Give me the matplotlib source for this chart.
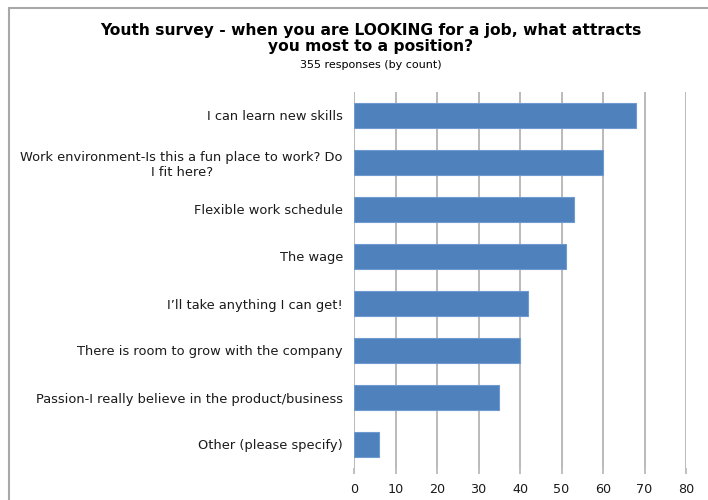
import matplotlib.pyplot as plt
from matplotlib.patches import Rectangle

# survey answers, top to bottom
answers = [
    "I can learn new skills",
    "Work environment-Is this a fun place to work? Do\nI fit here?",
    "Flexible work schedule",
    "The wage",
    "I\u2019ll take anything I can get!",
    "There is room to grow with the company",
    "Passion-I really believe in the product/business",
    "Other (please specify)",
]
counts = [68, 60, 53, 51, 42, 40, 35, 6]
xticks = [0, 10, 20, 30, 40, 50, 60, 70, 80]

plt.rcParams['font.family'] = ['DejaVu Sans']

fig = plt.figure(figsize=(7.08, 5), dpi=100)
ax = fig.add_axes([0.5, 0.064, 0.469, 0.752])

pos = list(range(len(answers)))
ax.barh(pos, counts, height=0.55, color='#4F81BD', edgecolor='#6E9AD0', linewidth=0.8, zorder=3)
ax.set_ylim(len(answers) - 0.5, -0.5)
ax.set_xlim(0, 80)
ax.set_xticks(xticks)
ax.set_yticks(pos)
ax.set_yticklabels(answers, fontsize=9.4, color='#1a1a1a')
for lab in ax.get_yticklabels():
    lab.set_multialignment('center')
ax.tick_params(axis='y', length=0, pad=8)
ax.tick_params(axis='x', length=4, width=1.2, color='#B4B4B4', labelsize=9.2, pad=7, labelcolor='#1a1a1a')
ax.grid(axis='x', color='#B4B4B4', linewidth=1.3, zorder=0)
for s in ax.spines.values():
    s.set_visible(False)

fig.text(0.524, 0.954, "Youth survey - when you are LOOKING for a job, what attracts\nyou most to a position?",
         ha='center', va='top', fontsize=11.2, fontweight='bold', linespacing=1.05)
fig.text(0.524, 0.879, "355 responses (by count)", ha='center', va='top', fontsize=8.0)

# outer frame
fig.patches.append(Rectangle((9 / 708, -0.1), 1.2, 1.1 - 8.5 / 500, transform=fig.transFigure,
                             fill=False, edgecolor='#A8A8A8', linewidth=1.5))

fig.savefig("out.png", dpi=100)
